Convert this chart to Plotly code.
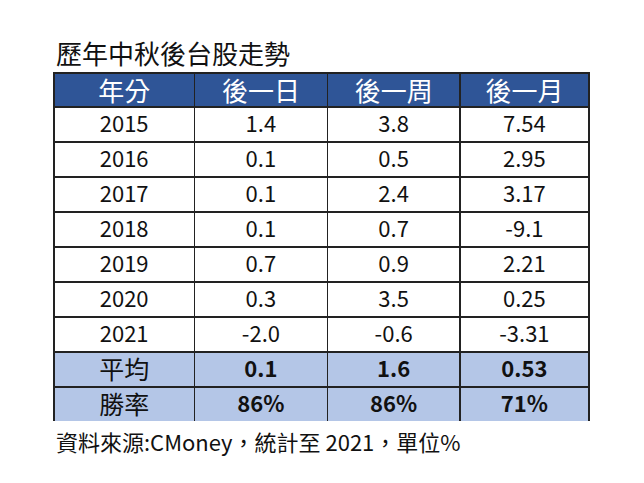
import plotly.graph_objects as go

title = "歷年中秋後台股走勢"
header = ["年分", "後一日", "後一周", "後一月"]
years = ["2015", "2016", "2017", "2018", "2019", "2020", "2021"]
day1 = ["1.4", "0.1", "0.1", "0.1", "0.7", "0.3", "-2.0"]
week1 = ["3.8", "0.5", "2.4", "0.7", "0.9", "3.5", "-0.6"]
month1 = ["7.54", "2.95", "3.17", "-9.1", "2.21", "0.25", "-3.31"]
avg_row = ["平均", "0.1", "1.6", "0.53"]
win_row = ["勝率", "86%", "86%", "71%"]
footnote = "資料來源:CMoney，統計至 2021，單位%"

W, H = 644, 483
FONT = "Noto Sans CJK TC"
OFF_X, OFF_Y = 8, 8          # page body offset
LINE = dict(color="#222222", width=1.5)
widths = [140, 133, 132, 129]
x0, x1 = 54 - OFF_X, 589 - OFF_X

def ydom(top, bottom):
    return [1 - (bottom - OFF_Y) / H, 1 - (top - OFF_Y) / H]

fig = go.Figure()
# main table: header + yearly rows
fig.add_trace(go.Table(
    domain=dict(x=[x0 / W, x1 / W], y=ydom(73, 352)),
    columnwidth=widths,
    header=dict(values=header, fill_color="#2F5597", height=34, line=LINE,
                font=dict(color="white", size=26, family=FONT), align="center"),
    cells=dict(values=[years, day1, week1, month1], fill_color="white", height=35,
               line=LINE, font=dict(color="#111111", size=22, family=FONT),
               align="center"),
))
# summary table: average (as header row) + win rate
wt = ["normal", "bold", "bold", "bold"]
sz = [25, 22, 22, 22]
fig.add_trace(go.Table(
    domain=dict(x=[x0 / W, x1 / W], y=ydom(352, 422)),
    columnwidth=widths,
    header=dict(values=avg_row, fill_color="#B4C6E7", height=35, line=LINE,
                font=dict(color="#111111", size=sz, family=FONT, weight=wt),
                align="center"),
    cells=dict(values=[[v] for v in win_row], fill_color="#B4C6E7", height=35,
               line=LINE, font=dict(color="#111111", size=sz, family=FONT, weight=wt),
               align="center"),
))
fig.add_annotation(text=title, x=(54 - OFF_X) / W, y=1 - 44 / H, xref="paper", yref="paper",
                   xanchor="left", yanchor="middle", showarrow=False,
                   font=dict(size=26, color="#111111", family=FONT))
fig.add_annotation(text=footnote, x=(54 - OFF_X) / W, y=1 - 433 / H, xref="paper", yref="paper",
                   xanchor="left", yanchor="middle", showarrow=False,
                   font=dict(size=22, color="#111111", family=FONT))
fig.update_layout(width=W, height=H, margin=dict(l=0, r=0, t=0, b=0),
                  paper_bgcolor="white", plot_bgcolor="white")
fig.write_html("out.html")
